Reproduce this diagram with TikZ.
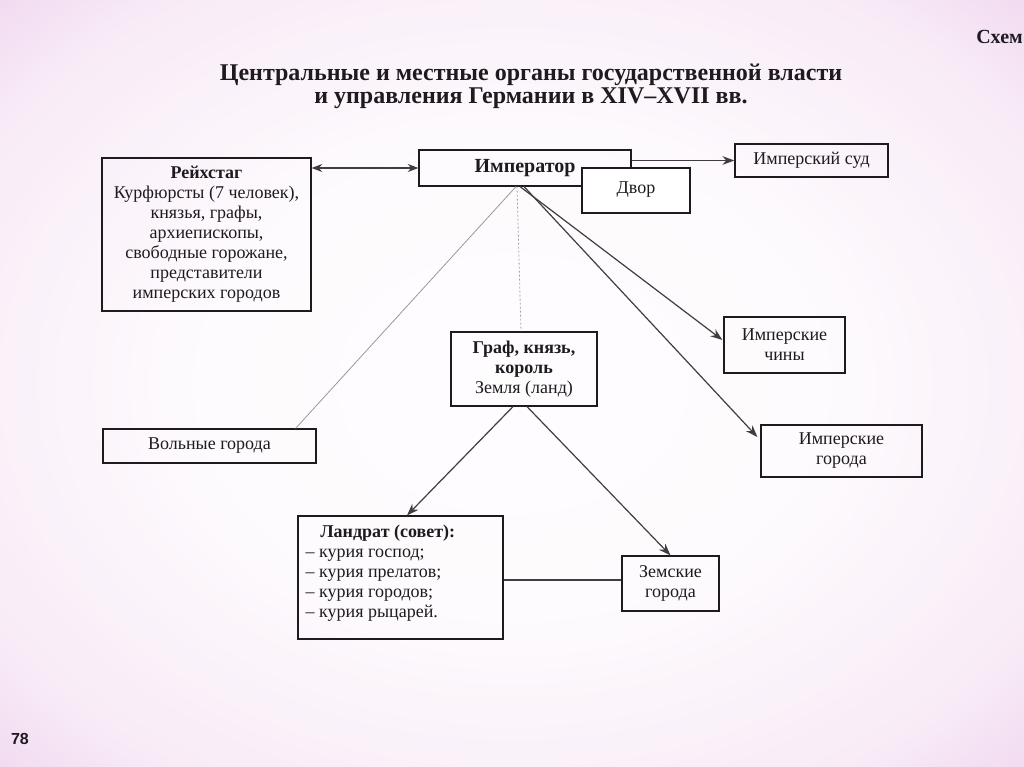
\documentclass[tikz,border=0pt]{standalone}
\usepackage{fontspec}
\setmainfont{Liberation Serif}
\newfontfamily\sansfnt{Liberation Sans}
\usetikzlibrary{arrows.meta,calc}
\definecolor{pinkA}{RGB}{234,198,232}
\definecolor{pinkB}{RGB}{214,160,212}
\definecolor{ink}{RGB}{30,26,32}
\pgfdeclareradialshading{pagebg}{\pgfpoint{0bp}{0bp}}{color(0bp)=(white!96!pinkA); color(16bp)=(white!92!pinkA); color(30bp)=(white!65!pinkA); color(42bp)=(pinkA); color(70bp)=(pinkB)}
\begin{document}
\begin{tikzpicture}[x=0.75pt,y=-0.75pt,
  box/.style={draw=ink, line width=0.9pt, rectangle, inner sep=0pt, align=center,
    text=ink, font=\fontsize{13.5}{15}\selectfont},
  wh/.style 2 args={minimum width=#1*0.75pt, minimum height=#2*0.75pt},
  txt/.style={inner sep=0pt, align=left, text=ink, font=\fontsize{13.5}{15}\selectfont},
  link/.style={draw=ink!85, line width=0.9pt},
  arr/.style={link, -{Stealth[length=9pt,width=6.5pt]}},
  dbl/.style={link, {Stealth[length=8pt,width=6pt]}-{Stealth[length=8pt,width=6pt]}},
  faint/.style={draw=ink!45, line width=0.6pt},
  dotline/.style={draw=ink!40, line width=0.6pt, dash pattern=on 1.5pt off 1.5pt}]
\useasboundingbox (0,0) rectangle (1024,767);
\shade[shading=pagebg] (0,0) rectangle (1024,767);

% title
\node[txt, align=center, font=\bfseries\fontsize{18}{17}\selectfont] (title) at (531,86)
  {Центральные и местные органы государственной власти\\и управления Германии в XIV–XVII вв.};
\node[txt, anchor=base east, font=\bfseries\fontsize{15}{18}\selectfont] (schema) at (1023,44) {Схем};
\node[txt, font=\sansfnt\bfseries\fontsize{12}{14}\selectfont] (page) at (20,739) {78};

% boxes
\node[box, wh={209}{153}] (reich) at (206.5,234.5)
  {\textbf{Рейхстаг}\\Курфюрсты (7 человек),\\князья, графы,\\архиепископы,\\свободные горожане,\\представители\\имперских городов};
\node[box, wh={212}{36}, font=\bfseries\fontsize{15}{16}\selectfont] (imp) at (525,168)
  {\raisebox{1.5pt}{Император}};
\node[box, wh={108}{45}, fill=white, anchor=center] (dvor) at (636,190.5)
  {\raisebox{4pt}{Двор}};
\node[box, wh={153}{33}] (sud) at (811.5,160.5) {Имперский суд};
\node[box, wh={146}{74}] (graf) at (524,369)
  {\textbf{Граф, князь,}\\\textbf{король}\\Земля (ланд)};
\node[box, wh={213}{34}] (volny) at (209.5,446) {Вольные города};
\node[box, wh={121}{56}] (chiny) at (784.5,345) {Имперские\\чины};
\node[box, wh={161}{52}] (igor) at (841.5,451) {Имперские\\города};
\node[box, wh={205}{123}] (landrat) at (400.5,577.5) {};
\node[txt, anchor=north west] (landtext) at ($(landrat.north west)+(8,9)$)
  {\hspace*{11pt}\textbf{Ландрат (совет):}\\– курия господ;\\– курия прелатов;\\– курия городов;\\– курия рыцарей.};
\node[box, wh={97}{55}] (zem) at (670.5,583.5) {Земские\\города};

% connectors
\draw[dbl] (reich.north east |- imp.west) -- (imp.west);
\draw[arr] (imp.east |- sud.west) -- (sud.west);
\draw[faint] ($(imp.south)+(-9,0)$) -- ($(volny.north east)+(-21,0)$);
\draw[dotline] ($(imp.south)+(-8,0)$) -- ($(graf.north)+(-3,0)$);
\draw[arr] ($(imp.south)+(-5,0)$) -- ($(chiny.west)+(-1,-5)$);
\draw[arr] ($(imp.south)+(-1,0)$) -- ($(igor.west)+(-3,-14)$);
\draw[arr] ($(graf.south)+(-11,0)$) -- ($(landrat.north)+(6.5,0)$);
\draw[arr] ($(graf.south)+(3,0)$) -- (zem.north);
\draw[link] ($(landrat.east)+(0,2.5)$) -- ($(zem.west)+(0,-3.5)$);
\end{tikzpicture}
\end{document}
